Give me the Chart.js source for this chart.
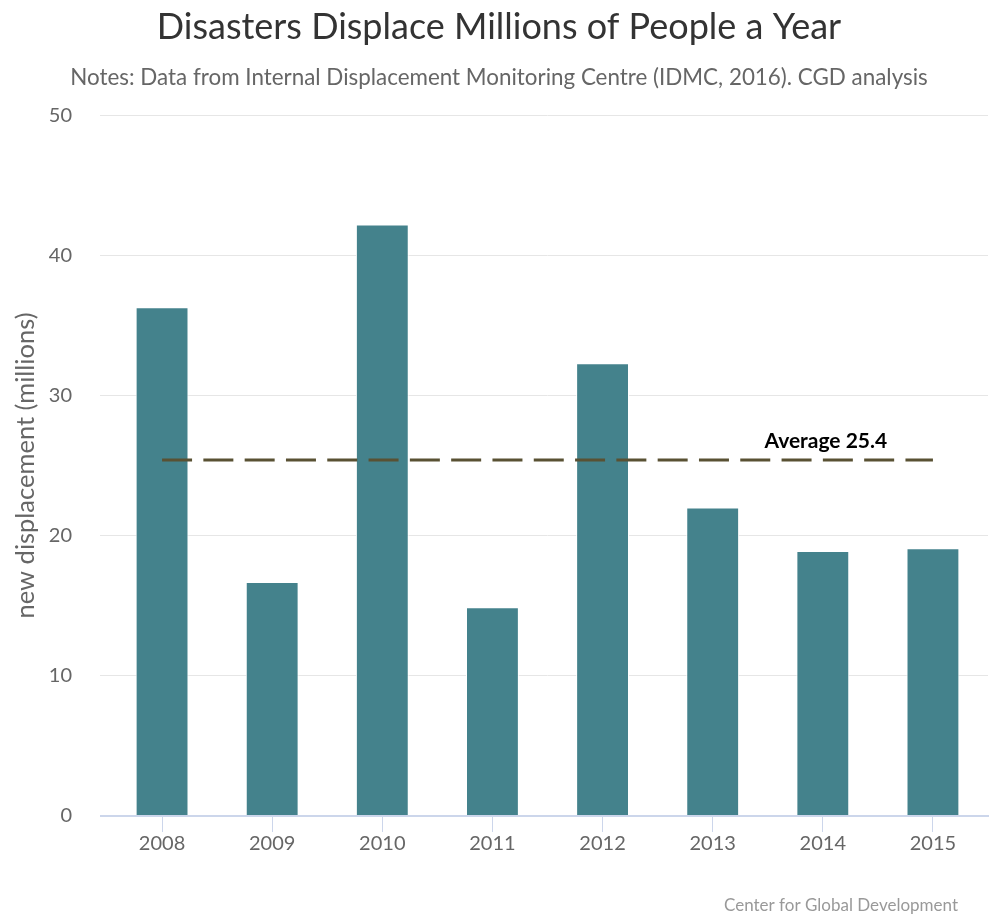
<!DOCTYPE html>
<html>
<head>
<meta charset="utf-8">
<script src="https://cdn.jsdelivr.net/npm/chart.js@4.4.1/dist/chart.umd.min.js"></script>
<style>
  html, body { margin: 0; padding: 0; background: #fff; }
  #chart { display: block; }
</style>
</head>
<body>
<canvas id="chart" width="989" height="917"></canvas>
<script>
// data
const years = ['2008', '2009', '2010', '2011', '2012', '2013', '2014', '2015']
const displaced = [36.3, 16.7, 42.2, 14.9, 32.3, 22.0, 18.9, 19.1]
const average_value = 25.4
const average_from = '2008'
const average_to = '2015'
const y_ticks = [0, 10, 20, 30, 40, 50]

const FONT = 'Lato'

// draws the "Average 25.4" label and the credit line
const extras_plugin = {
    id: 'extras',
    afterDraw(chart) {
        const { ctx, scales } = chart
        ctx.save()
        const x = scales.x.getPixelForValue(years.indexOf('2014'))
        const y = scales.y.getPixelForValue(average_value)
        ctx.font = `bold 21px ${FONT}`
        ctx.fillStyle = '#000'
        ctx.textAlign = 'center'
        ctx.textBaseline = 'alphabetic'
        ctx.fillText('Average ' + average_value, x + 3, y - 12)

        ctx.font = `17px ${FONT}`
        ctx.fillStyle = '#999'
        ctx.textAlign = 'right'
        ctx.textBaseline = 'middle'
        ctx.fillText('Center for Global Development', 958, 906)
        ctx.restore()
    }
}

new Chart(document.getElementById('chart'), {
    type: 'bar',
    data: {
        labels: years,
        datasets: [
            {
                type: 'line',
                data: [{ x: average_from, y: average_value }, { x: average_to, y: average_value }],
                borderColor: '#595133',
                borderWidth: 3,
                borderDash: [30, 11.3],
                pointRadius: 0,
                fill: false,
                order: 0,
            },
            {
                data: displaced,
                backgroundColor: '#44828c',
                borderColor: '#ffffff',
                borderWidth: 1,
                categoryPercentage: 1,
                barPercentage: 0.48,
                order: 1,
            }
        ]
    },
    options: {
        responsive: false,
        devicePixelRatio: 1,
        animation: false,
        layout: { padding: { left: 10, right: 1, top: 0, bottom: 61 } },
        plugins: {
            legend: { display: false },
            tooltip: { enabled: false },
            title: {
                display: true,
                text: 'Disasters Displace Millions of People a Year',
                color: '#333',
                font: { family: FONT, size: 36, weight: 'normal' },
                padding: { top: 6, bottom: 10 }
            },
            subtitle: {
                display: true,
                text: 'Notes: Data from Internal Displacement Monitoring Centre (IDMC, 2016). CGD analysis',
                color: '#666',
                font: { family: FONT, size: 22.4 },
                padding: { top: 5, bottom: 24 }
            }
        },
        scales: {
            x: {
                offset: true,
                grid: {
                    offset: false,
                    drawOnChartArea: false,
                    drawTicks: true,
                    tickLength: 16,
                    color: '#ccd6eb',
                    lineWidth: 1
                },
                border: { color: '#ccd6eb', width: 2 },
                ticks: {
                    color: '#666',
                    font: { family: FONT, size: 20 },
                    padding: 0,
                    maxRotation: 0
                }
            },
            y: {
                min: 0,
                max: 50,
                afterFit: scale => { scale.width = 97 },
                afterBuildTicks: scale => { scale.ticks = y_ticks.map(value => ({ value })) },
                grid: {
                    color: c => c.tick && c.tick.value === 0 ? '#ccd6eb' : '#e6e6e6',
                    lineWidth: c => c.tick && c.tick.value === 0 ? 2 : 1,
                    tickLength: 7
                },
                border: { display: false },
                ticks: {
                    color: '#666',
                    font: { family: FONT, size: 20 },
                    padding: 28
                },
                title: {
                    display: true,
                    text: 'new displacement (millions)',
                    color: '#666',
                    font: { family: FONT, size: 25.5 },
                    padding: { top: 0, bottom: 0 }
                }
            }
        }
    },
    plugins: [extras_plugin]
})
</script>
</body>
</html>
